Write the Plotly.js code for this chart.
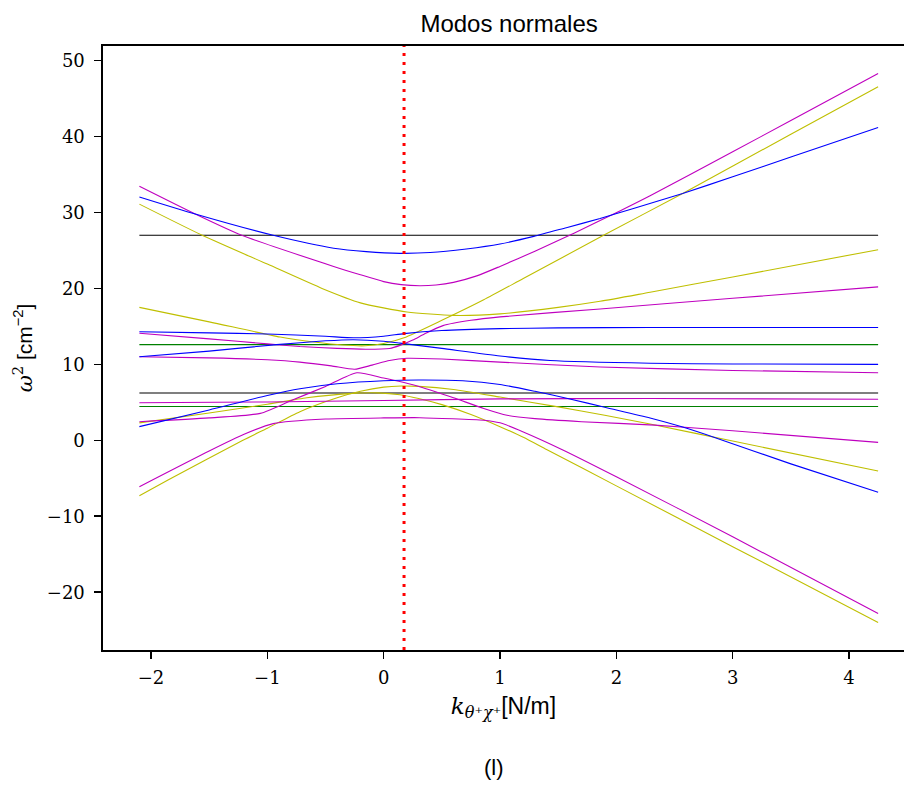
<!DOCTYPE html>
<html>
<head>
<meta charset="utf-8">
<script src="https://cdn.plot.ly/plotly-3.0.1.min.js"></script>
<style>html,body{margin:0;padding:0;background:#fff;}#chart{width:904px;height:787px;}</style>
</head>
<body>
<div id="chart"></div>
<script>
// ---- data ----
var xFlat = [-2.1, 4.25];
var yBlackHigh = [27.0, 27.0];
var yBlackLow = [6.23, 6.23];
var yGreenHigh = [12.6, 12.6];
var yGreenLow = [4.45, 4.45];

var xB1 = [-2.1, -1.62, -0.95, -0.43, -0.15, 0.14, 0.4, 0.71, 1.0, 1.29, 1.57, 1.86, 2.14, 2.57, 3.0, 3.5, 4.25];
var yB1 = [32.05, 29.8, 27.0, 25.3, 24.85, 24.62, 24.72, 25.2, 25.85, 26.85, 28.0, 29.2, 30.5, 32.5, 34.7, 37.3, 41.2];

var xB2 = [-2.1, -1.5, -1.0, -0.5, -0.26, 0.0, 0.175, 0.5, 1.0, 1.5, 2.29, 4.25];
var yB2 = [14.3, 14.15, 14.0, 13.7, 13.5, 13.7, 14.05, 14.45, 14.7, 14.8, 14.85, 14.85];

var xB3 = [-2.1, -1.5, -0.92, -0.5, -0.26, 0.0, 0.14, 0.5, 1.0, 1.43, 2.29, 3.0, 4.25];
var yB3 = [11.0, 11.75, 12.6, 13.1, 13.25, 13.05, 12.8, 12.1, 11.1, 10.5, 10.15, 10.05, 10.0];

var xB4 = [-2.1, -1.5, -1.0, -0.72, -0.4, 0.0, 0.3, 0.68, 1.0, 1.3, 1.6, 1.9, 2.29, 2.57, 2.85, 3.5, 4.25];
var yB4 = [1.8, 4.0, 5.9, 6.8, 7.45, 7.85, 7.95, 7.85, 7.35, 6.45, 5.45, 4.35, 2.95, 1.75, 0.35, -3.1, -6.85];

var xM1 = [-2.1, -1.62, -1.22, -0.43, -0.2, 0.0, 0.15, 0.31, 0.45, 0.6, 0.8, 1.0, 1.3, 1.64, 2.03, 2.29, 3.0, 3.5, 4.25];
var yM1 = [33.45, 29.8, 27.0, 22.9, 21.8, 20.9, 20.5, 20.35, 20.45, 20.8, 21.65, 22.9, 24.9, 27.3, 30.2, 32.2, 38.0, 42.1, 48.3];

var xM2 = [-2.1, -1.5, -1.0, -0.72, -0.4, -0.15, 0.05, 0.14, 0.25, 0.35, 0.51, 0.75, 1.0, 1.86, 3.0, 4.25];
var yM2 = [14.1, 13.35, 12.7, 12.35, 12.1, 12.0, 12.1, 12.5, 13.2, 14.0, 15.1, 15.8, 16.25, 17.3, 18.7, 20.2];

var xM3 = [-2.1, -1.5, -1.0, -0.72, -0.45, -0.25, -0.1, 0.05, 0.2, 0.5, 1.0, 1.86, 3.0, 4.25];
var yM3 = [11.0, 10.85, 10.6, 10.3, 9.8, 9.35, 9.9, 10.5, 10.8, 10.7, 10.3, 9.65, 9.2, 8.9];

var xM4 = [-2.1, -1.5, -1.06, -0.8, -0.5, -0.23, 0.0, 0.175, 0.31, 0.6, 0.86, 1.06, 1.3, 1.7, 2.33, 3.0, 4.25];
var yM4 = [2.45, 2.95, 3.55, 5.2, 7.1, 8.9, 8.2, 7.6, 7.06, 5.6, 4.2, 3.3, 2.85, 2.45, 2.0, 1.25, -0.27];

var xM5 = [-2.1, -1.5, -1.2, -0.95, -0.5, 0.0, 0.31, 0.86, 1.0, 1.2, 1.54, 2.0, 3.0, 4.25];
var yM5 = [-6.1, -1.4, 0.8, 2.2, 2.8, 2.95, 2.98, 2.65, 2.3, 1.1, -1.27, -4.8, -12.7, -22.8];

var xM6 = [-2.1, -1.0, 0.0, 1.0, 2.29, 4.25];
var yM6 = [4.95, 5.05, 5.25, 5.45, 5.5, 5.4];

var xY1 = [-2.1, -1.56, -1.0, -0.53, -0.2, 0.2, 0.6, 1.0, 1.5, 1.86, 2.29, 3.0, 4.25];
var yY1 = [31.1, 27.0, 23.2, 20.0, 18.1, 16.9, 16.45, 16.65, 17.5, 18.3, 19.5, 21.5, 25.1];

var xY2 = [-2.1, -1.5, -0.89, -0.6, -0.35, -0.16, 0.0, 0.175, 0.5, 0.86, 1.2, 1.89, 2.57, 3.5, 4.25];
var yY2 = [17.5, 15.6, 13.6, 12.95, 12.55, 12.45, 12.75, 13.5, 15.8, 18.5, 21.3, 27.0, 32.5, 40.3, 46.55];

var xY3 = [-2.1, -1.5, -1.0, -0.66, -0.3, -0.05, 0.14, 0.3, 0.5, 0.75, 1.0, 1.2, 1.4, 2.0, 3.0, 4.25];
var yY3 = [2.3, 3.6, 4.75, 5.6, 6.15, 6.25, 6.0, 5.5, 4.7, 3.4, 1.8, 0.4, -1.2, -6.0, -14.0, -24.0];

var xY4 = [-2.1, -1.85, -1.21, -1.0, -0.72, -0.4, -0.2, 0.0, 0.15, 0.3, 0.6, 1.0, 1.5, 1.9, 2.29, 3.0, 4.25];
var yY4 = [-7.3, -5.2, 0.0, 1.6, 3.77, 5.6, 6.45, 7.0, 7.15, 7.1, 6.7, 5.7, 4.4, 3.3, 2.15, -0.1, -4.04];

var kMarker = 0.175;
var xTicks = [-2, -1, 0, 1, 2, 3, 4];
var yTicks = [-20, -10, 0, 10, 20, 30, 40, 50];

// ---- styles ----
var MAG = '#bf00bf', YEL = '#bfbf00', BLU = '#0000ff', GRN = '#008000', BLK = '#000000';

function tr(x, y, c) {
  return {x: x, y: y, type: 'scatter', mode: 'lines',
          line: {color: c, width: 1.1, shape: 'spline', smoothing: 0.6},
          hoverinfo: 'skip', showlegend: false};
}

var data = [
  tr(xFlat, yBlackHigh, BLK), tr(xFlat, yBlackLow, BLK),
  tr(xFlat, yGreenHigh, GRN), tr(xFlat, yGreenLow, GRN),
  tr(xY1, yY1, YEL), tr(xY2, yY2, YEL), tr(xY3, yY3, YEL), tr(xY4, yY4, YEL),
  tr(xM1, yM1, MAG), tr(xM2, yM2, MAG), tr(xM3, yM3, MAG), tr(xM4, yM4, MAG), tr(xM5, yM5, MAG), tr(xM6, yM6, MAG),
  tr(xB1, yB1, BLU), tr(xB2, yB2, BLU), tr(xB3, yB3, BLU), tr(xB4, yB4, BLU)
];

var serif = "'DejaVu Serif', serif";
var sans = "'Liberation Sans', Arial, sans-serif";

var layout = {
  width: 904, height: 787,
  margin: {l: 103, r: 0, t: 46, b: 137},
  paper_bgcolor: '#ffffff', plot_bgcolor: '#ffffff',
  showlegend: false,
  title: {text: 'Modos normales', font: {family: sans, size: 24, color: '#000'},
          x: 0.507, xref: 'paper', xanchor: 'center', y: 0.97, yref: 'container', yanchor: 'middle'},
  xaxis: {
    range: [-2.4127, 4.4725], showgrid: false, zeroline: false,
    showline: true, mirror: true, linecolor: '#000', linewidth: 1.6,
    ticks: 'outside', ticklen: 7, tickwidth: 1.6, tickcolor: '#000',
    tickvals: xTicks, tickfont: {family: serif, size: 18, color: '#000'},
    ticklabelstandoff: 4,
    title: {text: "<span style=\"font-family:'DejaVu Serif'\"><i>k</i><sub><i>θ</i>⁺<i>χ</i>⁺</sub></span>[N/m]",
            font: {family: sans, size: 23, color: '#000'}, standoff: 10}
  },
  yaxis: {
    range: [-27.61, 51.92], showgrid: false, zeroline: false,
    showline: true, mirror: false, linecolor: '#000', linewidth: 1.6,
    ticks: 'outside', ticklen: 7, tickwidth: 1.6, tickcolor: '#000',
    tickvals: yTicks, tickfont: {family: serif, size: 18, color: '#000'},
    ticklabelstandoff: 6,
    title: {text: "<span style=\"font-family:'DejaVu Serif'\"><i>ω</i><sup>2</sup></span> [cm<sup>−2</sup>]",
            font: {family: sans, size: 21, color: '#000'}, standoff: 8}
  },
  shapes: [{type: 'line', xref: 'x', yref: 'paper', x0: kMarker, x1: kMarker, y0: 0, y1: 1,
            line: {color: '#ff0000', width: 3, dash: '3px,6px'}}],
  annotations: [{text: '(l)', xref: 'paper', yref: 'paper', x: 0.488, y: -0.195,
                 xanchor: 'center', yanchor: 'middle', showarrow: false,
                 font: {family: sans, size: 22, color: '#000'}}]
};

Plotly.newPlot('chart', data, layout, {staticPlot: true, displayModeBar: false});
</script>
</body>
</html>
